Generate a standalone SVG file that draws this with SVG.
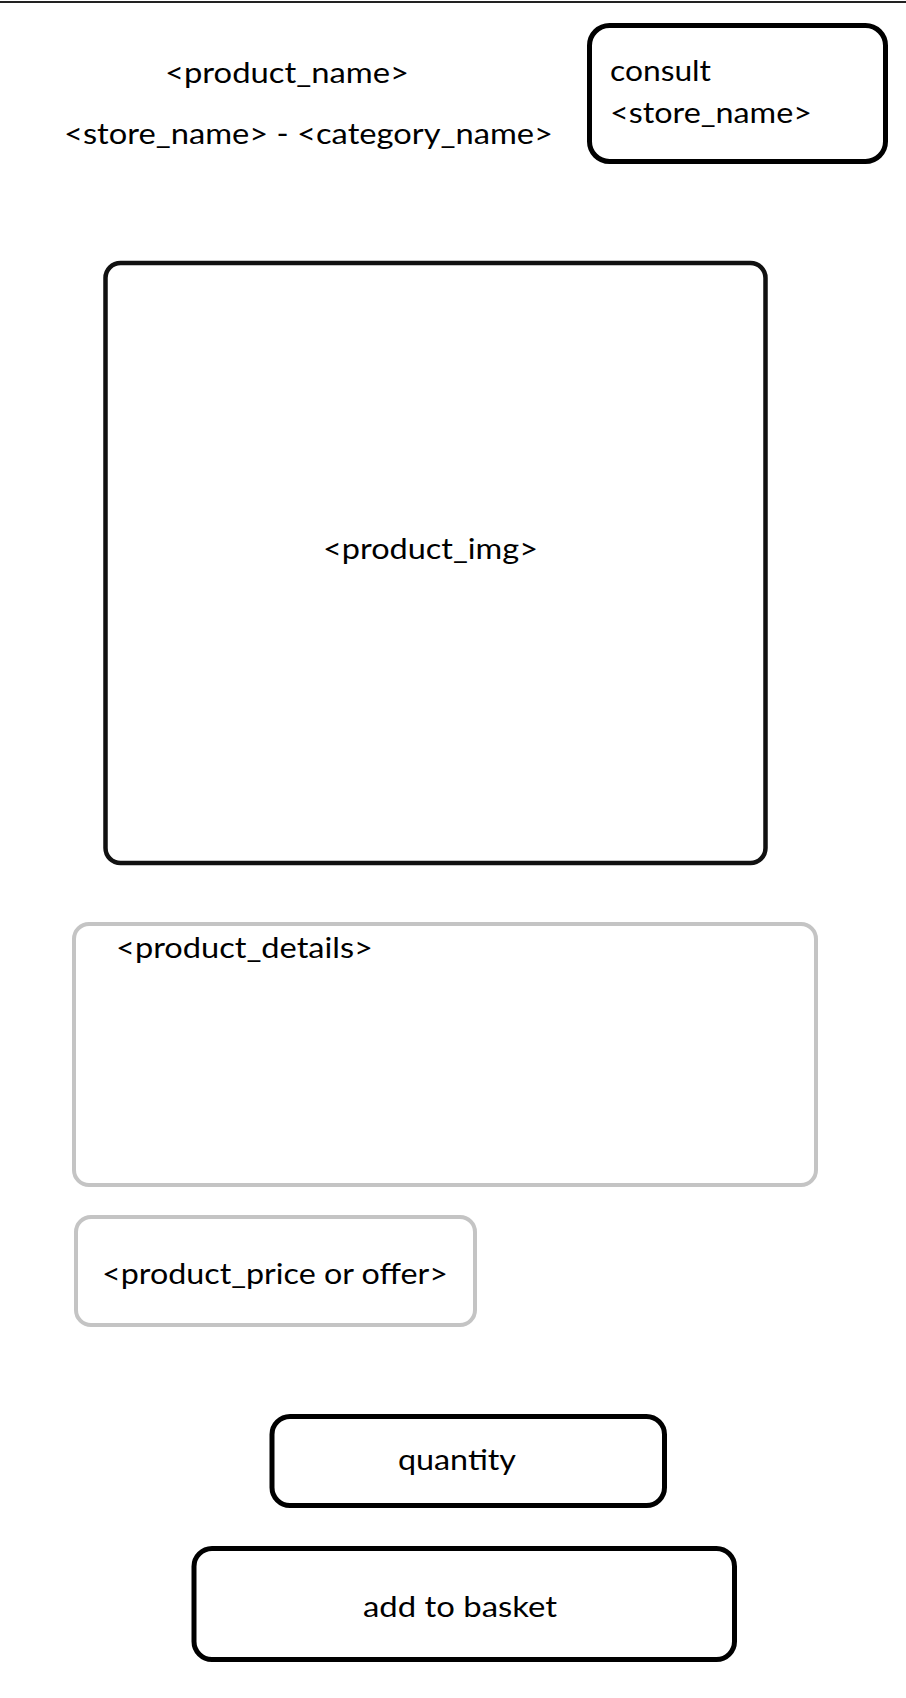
<svg xmlns="http://www.w3.org/2000/svg" width="906" height="1698" viewBox="0 0 906 1698">
<style>
.t{font-family:Lato,"Open Sans","Liberation Sans",sans-serif;font-size:29px;fill:#000}
.dark{fill:#fff;stroke:#000;stroke-width:5}
.thin{fill:#fff;stroke:#111;stroke-width:4.5}
.gray{fill:#fff;stroke:#c4c4c4;stroke-width:4}
</style>
<rect x="0" y="0" width="906" height="1698" fill="#fff"/>
<line x1="0" y1="2" x2="906" y2="2" stroke="#222" stroke-width="2"/>
<g id="header">
<text class="t" x="165" y="83" textLength="244" lengthAdjust="spacingAndGlyphs">&lt;product_name&gt;</text>
<text class="t" x="64" y="144" textLength="489" lengthAdjust="spacingAndGlyphs">&lt;store_name&gt; - &lt;category_name&gt;</text>
</g>
<g id="consult">
<rect class="dark" x="589.5" y="25.5" width="296" height="136" rx="20"/>
<text class="t" x="610" y="81" textLength="101" lengthAdjust="spacingAndGlyphs">consult</text>
<text class="t" x="610" y="123" textLength="202" lengthAdjust="spacingAndGlyphs">&lt;store_name&gt;</text>
</g>
<g id="product_img">
<rect class="thin" x="105.5" y="263" width="660" height="600" rx="15"/>
<text class="t" x="323" y="559" textLength="215" lengthAdjust="spacingAndGlyphs">&lt;product_img&gt;</text>
</g>
<g id="product_details">
<rect class="gray" x="74" y="924" width="742" height="261" rx="15"/>
<text class="t" x="116" y="958" textLength="257" lengthAdjust="spacingAndGlyphs">&lt;product_details&gt;</text>
</g>
<g id="product_price">
<rect class="gray" x="76" y="1217" width="399" height="108" rx="15"/>
<text class="t" x="102" y="1284" textLength="346" lengthAdjust="spacingAndGlyphs">&lt;product_price or offer&gt;</text>
</g>
<g id="quantity">
<rect class="dark" x="272" y="1416.5" width="392.5" height="89" rx="18"/>
<text class="t" x="398" y="1470" textLength="118" lengthAdjust="spacingAndGlyphs">quantity</text>
</g>
<g id="add_to_basket">
<rect class="dark" x="194" y="1548.5" width="540.5" height="111" rx="18"/>
<text class="t" x="363" y="1617" textLength="194" lengthAdjust="spacingAndGlyphs">add to basket</text>
</g>
<g id="connectors"/>
</svg>
